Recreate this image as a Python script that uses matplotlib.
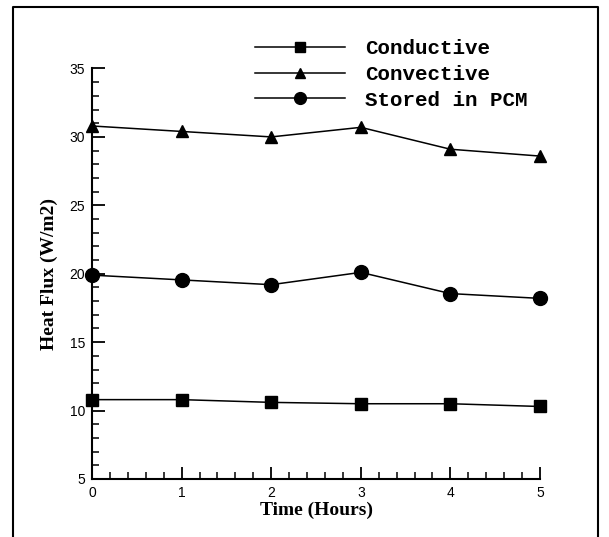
import matplotlib
matplotlib.use("Agg")
import matplotlib.pyplot as plt
from matplotlib.lines import Line2D
from matplotlib.ticker import MultipleLocator

# data
horas = [0, 1, 2, 3, 4, 5]
conductive = [10.8, 10.8, 10.6, 10.5, 10.5, 10.3]
convective = [30.8, 30.4, 30.0, 30.7, 29.1, 28.6]
stored_pcm = [19.9, 19.55, 19.2, 20.1, 18.55, 18.2]

fig = plt.figure(figsize=(6.09, 5.37), dpi=100)
ax = fig.add_axes([92 / 609, 1 - 479 / 537, 448 / 609, 410.5 / 537])

ax.plot(horas, conductive, color="black", lw=1.1, marker="s", ms=9, label="Conductive", clip_on=False)
ax.plot(horas, convective, color="black", lw=1.1, marker="^", ms=8, label="Convective", clip_on=False)
ax.plot(horas, stored_pcm, color="black", lw=1.1, marker="o", ms=10, label="Stored in PCM", clip_on=False)

ax.set_xlim(0, 5)
ax.set_ylim(5, 35)
ax.xaxis.set_major_locator(MultipleLocator(1))
ax.xaxis.set_minor_locator(MultipleLocator(0.2))
ax.yaxis.set_major_locator(MultipleLocator(5))
ax.yaxis.set_minor_locator(MultipleLocator(1))

for lado in ["top", "right"]:
    ax.spines[lado].set_visible(False)
for lado in ["left", "bottom"]:
    ax.spines[lado].set_linewidth(1.5)

ax.tick_params(which="major", direction="in", length=9, width=1.3, labelsize=10, pad=5)
ax.tick_params(which="minor", direction="in", length=5, width=1.1)
for t in ax.get_xticklabels() + ax.get_yticklabels():
    t.set_family("Liberation Sans")

ax.set_xlabel("Time (Hours)", family="Liberation Serif", weight="bold", fontsize=14, labelpad=1)
ax.set_ylabel("Heat Flux (W/m2)", family="Liberation Serif", weight="bold", fontsize=14, labelpad=8)

ax.legend(loc="upper left", bbox_to_anchor=(255 / 609, 1 - 39 / 537),
          bbox_transform=fig.transFigure, frameon=False, numpoints=1,
          prop={"family": "Liberation Mono", "weight": "bold", "size": 15},
          handlelength=4.3, handletextpad=1.0, labelspacing=0.33,
          borderpad=0, borderaxespad=0, markerscale=0.85)

# marco exterior
marco = Line2D([13, 13, 598, 598], [537, 7, 7, 537], color="black", lw=1.5)
marco.set_transform(matplotlib.transforms.Affine2D().scale(1, -1).translate(0, 537))
fig.add_artist(marco)

fig.savefig("out.png", dpi=100)
